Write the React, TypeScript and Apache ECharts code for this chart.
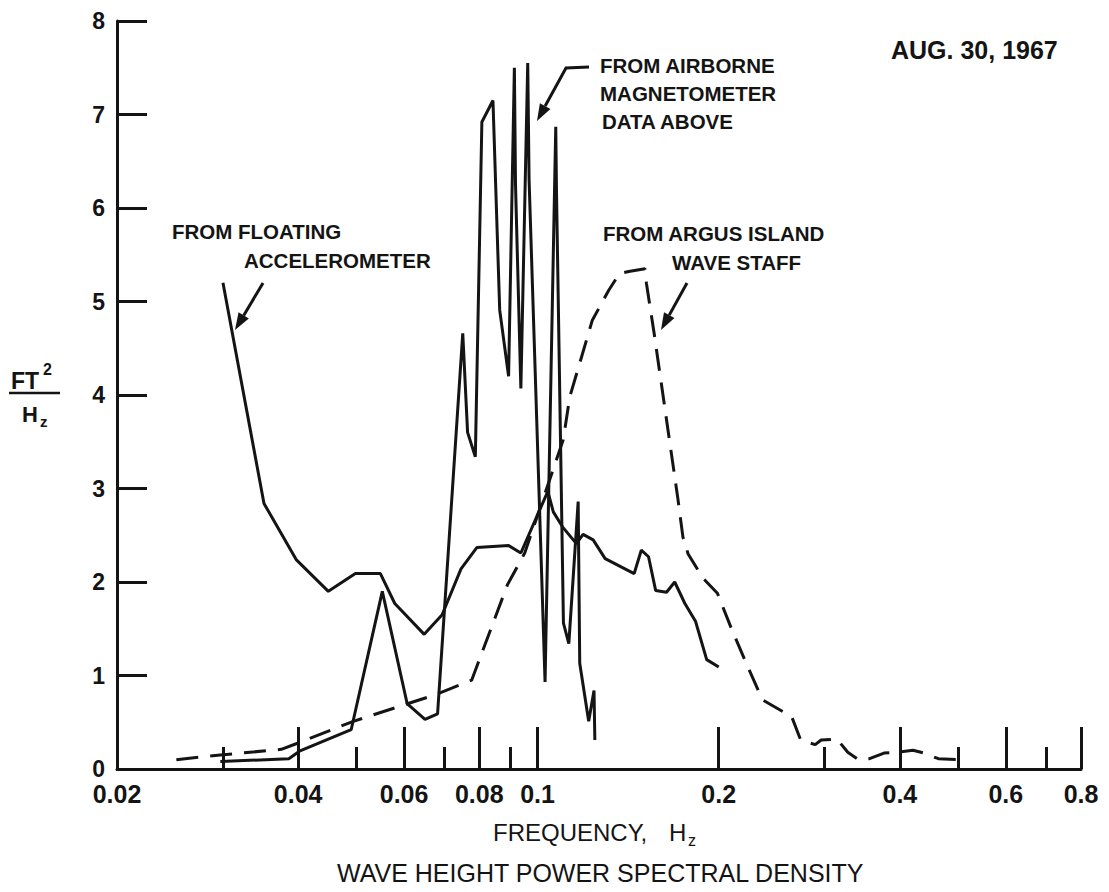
import React, { useEffect, useRef } from 'react';
import * as echarts from 'echarts';

// ---------- data (frequency in Hz, spectral density in FT^2/Hz) ----------
const accelFreq = [0.030, 0.0351, 0.0397, 0.0449, 0.0498, 0.0548, 0.0579, 0.0648, 0.0694, 0.0746, 0.0793, 0.0895, 0.0938, 0.104, 0.1062, 0.110, 0.116, 0.119, 0.1237, 0.1295, 0.1447, 0.1487, 0.1529, 0.1571, 0.1638, 0.169, 0.1757, 0.183, 0.191, 0.200];
const accelPsd = [5.20, 2.84, 2.24, 1.90, 2.09, 2.09, 1.77, 1.44, 1.65, 2.14, 2.37, 2.39, 2.31, 2.97, 2.75, 2.59, 2.41, 2.51, 2.45, 2.25, 2.09, 2.34, 2.27, 1.91, 1.89, 2.00, 1.77, 1.58, 1.17, 1.09];

const magFreq = [0.0297, 0.0386, 0.0402, 0.049, 0.0552, 0.0607, 0.065, 0.0682, 0.0751, 0.0765, 0.0788, 0.0808, 0.0843, 0.0865, 0.0895, 0.0915, 0.0919, 0.0938, 0.0963, 0.0968, 0.1029, 0.1072, 0.1075, 0.1104, 0.1127, 0.1168, 0.1175, 0.1216, 0.1241, 0.1245];
const magPsd = [0.08, 0.11, 0.19, 0.42, 1.90, 0.70, 0.53, 0.59, 4.66, 3.60, 3.34, 6.92, 7.15, 4.91, 4.20, 7.50, 6.25, 4.07, 7.55, 6.30, 0.93, 6.87, 6.19, 1.56, 1.34, 2.86, 1.13, 0.51, 0.84, 0.31];

const argusFreq = [0.0251, 0.0297, 0.0375, 0.0397, 0.0494, 0.0673, 0.0777, 0.0891, 0.0952, 0.1103, 0.1131, 0.1175, 0.1233, 0.1313, 0.1368, 0.1417, 0.1508, 0.1517, 0.1562, 0.1662, 0.1709, 0.1744, 0.1779, 0.1883, 0.199, 0.2103, 0.2222, 0.2365, 0.2644, 0.2737, 0.2893, 0.296, 0.3144, 0.3277, 0.3416, 0.3562, 0.3765, 0.3979, 0.4206, 0.4386, 0.4636, 0.5002];
const argusPsd = [0.10, 0.15, 0.21, 0.27, 0.51, 0.79, 0.95, 1.97, 2.31, 3.52, 3.98, 4.34, 4.80, 5.12, 5.30, 5.32, 5.35, 5.19, 4.66, 3.45, 2.91, 2.48, 2.30, 2.04, 1.88, 1.49, 1.13, 0.74, 0.56, 0.31, 0.26, 0.31, 0.32, 0.18, 0.10, 0.11, 0.17, 0.18, 0.20, 0.17, 0.11, 0.10];

const freqLabelValues = [0.02, 0.04, 0.06, 0.08, 0.1, 0.2, 0.4, 0.6, 0.8];
const freqLabels = ['0.02', '0.04', '0.06', '0.08', '0.1', '0.2', '0.4', '0.6', '0.8'];
const majorTickFreqs = [0.04, 0.06, 0.08, 0.1, 0.2, 0.4, 0.6, 0.8];
const minorTickFreqs = [0.03, 0.05, 0.07, 0.09, 0.3, 0.5, 0.7];
const freqMin = 0.02;
const freqMax = 0.8;

// ---------- helpers ----------
const FONT = "'Liberation Sans', Arial, sans-serif";
const INK = '#141414';
const lg = (v: number) => Math.log10(v);
const pairs = (xs: number[], ys: number[]) => xs.map((x, i) => [lg(x), ys[i]]);

function arrow(pts: number[][]) {
  const n = pts.length;
  const [x2, y2] = pts[n - 1];
  const [x1, y1] = pts[n - 2];
  const L = Math.hypot(x2 - x1, y2 - y1);
  const dx = (x2 - x1) / L, dy = (y2 - y1) / L;
  const len = 17, hw = 6;
  const bx = x2 - dx * len, by = y2 - dy * len;
  return [
    { type: 'polyline', shape: { points: pts.slice(0, n - 1).concat([[bx, by]]) }, style: { stroke: INK, lineWidth: 3, fill: null } },
    { type: 'polygon', shape: { points: [[x2, y2], [bx - dy * hw, by + dx * hw], [bx + dy * hw, by - dx * hw]] }, style: { fill: INK } },
  ];
}

function txt(text: string, x: number, y: number, size: number, weight: string = 'bold', align: string = 'left') {
  return {
    type: 'text', x, y,
    style: { text, fontSize: size, fontWeight: weight, fontFamily: FONT, fill: INK, align, verticalAlign: 'middle' },
  };
}

export default function App() {
  const ref = useRef<HTMLDivElement>(null);
  useEffect(() => {
    if (!ref.current) return;
    const chart = echarts.init(ref.current, null, { renderer: 'svg' });
    const baseX = {
      type: 'value',
      min: lg(freqMin),
      max: lg(freqMax),
      position: 'bottom',
      splitLine: { show: false },
    };
    const option: any = {
      animation: false,
      backgroundColor: '#ffffff',
      grid: { left: 117, right: 28, top: 21, bottom: 123, containLabel: false },
      xAxis: [
        {
          ...baseX,
          axisLine: { show: true, lineStyle: { color: INK, width: 3 } },
          axisTick: { show: true, inside: true, length: 42, lineStyle: { color: INK, width: 3 }, customValues: majorTickFreqs.map(lg) },
          axisLabel: {
            show: true,
            customValues: freqLabelValues.map(lg),
            margin: 12,
            fontSize: 25,
            fontWeight: 'bold',
            fontFamily: FONT,
            color: INK,
            formatter: (v: number) => {
              let best = 0;
              freqLabelValues.forEach((f, i) => { if (Math.abs(lg(f) - v) < Math.abs(lg(freqLabelValues[best]) - v)) best = i; });
              return freqLabels[best];
            },
          },
        },
        {
          ...baseX,
          axisLine: { show: false },
          axisTick: { show: true, inside: true, length: 22, lineStyle: { color: INK, width: 3 }, customValues: minorTickFreqs.map(lg) },
          axisLabel: { show: false },
        },
      ],
      yAxis: {
        type: 'value',
        min: 0,
        max: 8,
        interval: 1,
        splitLine: { show: false },
        axisLine: { show: true, lineStyle: { color: INK, width: 3 } },
        axisTick: { show: true, inside: true, length: 30, lineStyle: { color: INK, width: 3 } },
        axisLabel: { margin: 12, fontSize: 23, fontWeight: 'bold', fontFamily: FONT, color: INK },
      },
      series: [
        {
          name: 'From floating accelerometer', type: 'line', xAxisIndex: 0, data: pairs(accelFreq, accelPsd),
          symbol: 'none', lineStyle: { color: INK, width: 3 }, z: 3,
        },
        {
          name: 'From airborne magnetometer', type: 'line', xAxisIndex: 0, data: pairs(magFreq, magPsd),
          symbol: 'none', lineStyle: { color: INK, width: 3 }, z: 3,
        },
        {
          name: 'From Argus Island wave staff', type: 'line', xAxisIndex: 0, data: pairs(argusFreq, argusPsd),
          symbol: 'none', lineStyle: { color: INK, width: 3, type: [22, 12] }, z: 3,
        },
      ],
      graphic: [
        txt('AUG. 30, 1967', 891, 50, 25),
        txt('FROM AIRBORNE', 600, 65, 20.5),
        txt('MAGNETOMETER', 600, 93, 20.5),
        txt('DATA ABOVE', 602, 121, 20.5),
        txt('FROM FLOATING', 172, 231, 20.5),
        txt('ACCELEROMETER', 244, 260, 20.5),
        txt('FROM ARGUS ISLAND', 603, 233, 20.5),
        txt('WAVE STAFF', 672, 262, 20.5),
        ...arrow([[263, 283], [235, 330]]),
        ...arrow([[589, 67], [566, 68], [537, 121]]),
        ...arrow([[687, 283], [661, 330]]),
        // y-axis unit FT^2 / Hz
        txt('FT', 11, 381, 23),
        txt('2', 43, 369, 16),
        { type: 'line', shape: { x1: 9, y1: 393, x2: 60, y2: 393 }, style: { stroke: INK, lineWidth: 2.5 } },
        txt('H', 22, 414, 22),
        txt('z', 40, 421, 15),
        // x-axis name
        txt('FREQUENCY,', 493, 832, 24, 'normal'),
        txt('H', 669, 832, 24, 'normal'),
        txt('z', 688, 840, 16, 'normal'),
        txt('WAVE HEIGHT POWER SPECTRAL DENSITY', 337, 873, 25, 'normal'),
      ],
    };
    chart.setOption(option);
    return () => chart.dispose();
  }, []);
  return (
    <div
      ref={ref}
      style={{ position: 'fixed', left: 0, top: 0, width: 1109, height: 892, background: '#fff' }}
    />
  );
}
